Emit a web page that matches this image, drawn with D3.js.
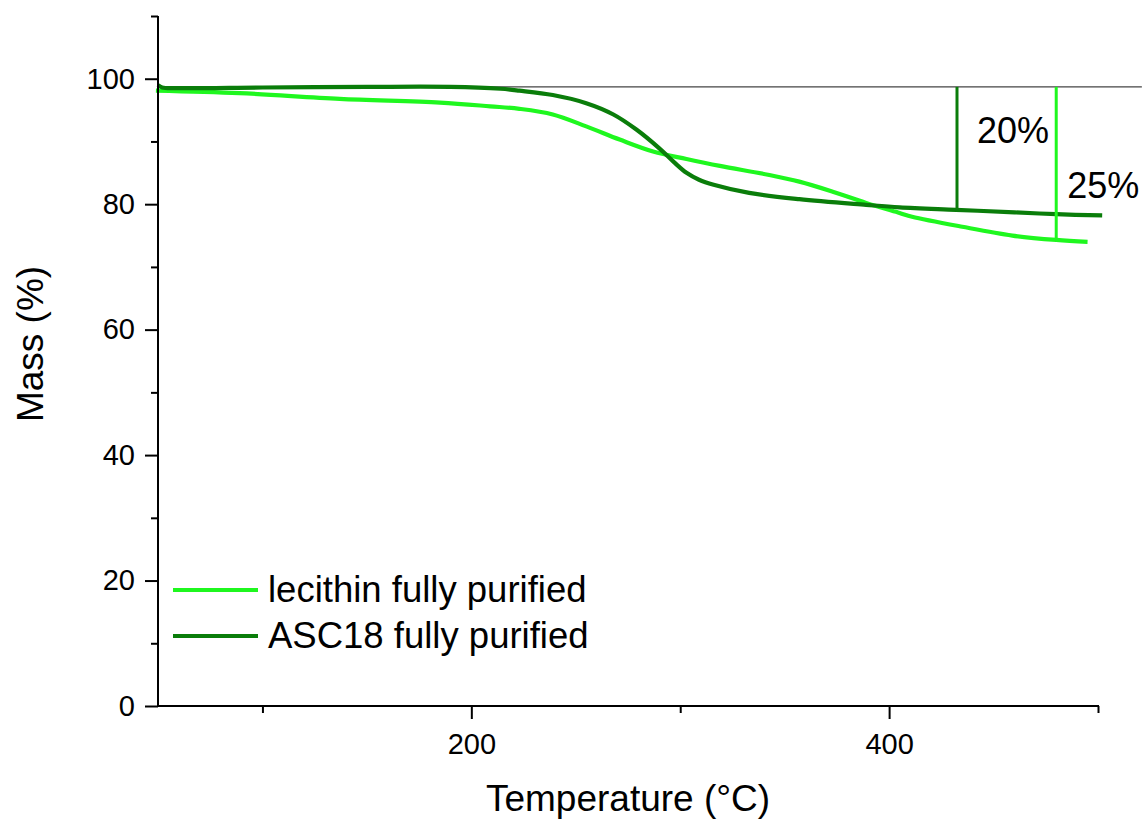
<!DOCTYPE html>
<html>
<head>
<meta charset="utf-8">
<script src="https://cdn.jsdelivr.net/npm/d3@7"></script>
<style>
  html, body { margin: 0; padding: 0; background: #fff; }
  svg { display: block; font-family: "Liberation Sans", Arial, sans-serif; }
</style>
</head>
<body>
<svg id="chart" width="1142" height="819"></svg>
<script>
// ---- data ----
const seriesNames = ["lecithin fully purified", "ASC18 fully purified"];
const seriesColors = ["#1ff71f", "#0a7d0a"];

const lecithinT = [49, 89, 137, 185, 209, 223, 239, 255, 271, 287, 303, 319, 342, 357, 373, 389, 405, 411, 435, 459, 480, 495];
const lecithinM = [98.1, 97.7, 96.8, 96.2, 95.6, 95.2, 94.3, 92.4, 90.3, 88.4, 87.2, 86.1, 84.7, 83.6, 82.0, 80.2, 78.6, 78.0, 76.4, 75.0, 74.3, 74.0];

const ascT = [50, 52, 60, 100, 150, 190, 214, 223, 239, 255, 268, 279, 290, 297, 303, 309, 316, 333, 357, 389, 405, 432, 460, 480, 502];
const ascM = [99.0, 98.6, 98.5, 98.6, 98.7, 98.7, 98.4, 98.1, 97.4, 96.1, 94.3, 91.9, 88.9, 86.7, 85.0, 83.9, 83.1, 81.8, 80.8, 79.9, 79.5, 79.1, 78.7, 78.4, 78.2];

const refLevel = 98.7;              // horizontal reference line (initial mass)
const refRange = [50, 521];
// mass-loss annotations: temperature, end mass, label, series index
const annT = [432.5, 480];
const annMass = [79.1, 74.3];
const annLabels = ["20%", "25%"];
const annSeries = [1, 0];

const xMajorTicks = [200, 400];
const xMinorTicks = [100, 300, 500];
const yMajorTicks = [0, 20, 40, 60, 80, 100];
const yMinorTicks = [10, 30, 50, 70, 90, 110];

// ---- layout ----
const W = 1142, H = 819;
const margin = { left: 158, right: 44, top: 16, bottom: 113 };
const svg = d3.select("#chart");
const x = d3.scaleLinear().domain([50, 500]).range([margin.left, W - margin.right]);
const y = d3.scaleLinear().domain([0, 110]).range([H - margin.bottom, margin.top]);

// reference line
svg.append("line")
  .attr("x1", x(refRange[0])).attr("x2", x(refRange[1]))
  .attr("y1", y(refLevel)).attr("y2", y(refLevel))
  .attr("stroke", "#444").attr("stroke-width", 1.2);

// data lines
const line = d3.line().x(d => x(d[0])).y(d => y(d[1])).curve(d3.curveCatmullRom.alpha(0.5));
const lecithin = lecithinT.map((t, i) => [t, lecithinM[i]]);
const asc = ascT.map((t, i) => [t, ascM[i]]);

svg.append("path").datum(lecithin).attr("d", line)
  .attr("fill", "none").attr("stroke", seriesColors[0]).attr("stroke-width", 4.2);
svg.append("path").datum(asc).attr("d", line)
  .attr("fill", "none").attr("stroke", seriesColors[1]).attr("stroke-width", 4.2);

// annotations
annT.forEach((t, i) => {
  svg.append("line")
    .attr("x1", x(t)).attr("x2", x(t))
    .attr("y1", y(refLevel)).attr("y2", y(annMass[i]))
    .attr("stroke", seriesColors[annSeries[i]]).attr("stroke-width", 3);
});
svg.append("text").attr("x", x(annT[0]) + 20).attr("y", 143)
  .attr("font-size", 36).attr("fill", "#000").text(annLabels[0]);
svg.append("text").attr("x", x(annT[1]) + 11).attr("y", 198)
  .attr("font-size", 36).attr("fill", "#000").text(annLabels[1]);

// axes
const axisColor = "#000";
function styleAxis(g) {
  g.select(".domain").attr("stroke", axisColor).attr("stroke-width", 2);
  g.selectAll(".tick line").attr("stroke", axisColor).attr("stroke-width", 2);
  g.selectAll(".tick text").attr("font-size", 29).attr("fill", "#000")
    .attr("font-family", "Liberation Sans, Arial, sans-serif");
}

const yAxisG = svg.append("g").attr("transform", `translate(${margin.left},0)`)
  .call(d3.axisLeft(y).tickValues(yMajorTicks).tickSize(13).tickPadding(10).tickSizeOuter(0));
styleAxis(yAxisG);
const yMinorG = svg.append("g").attr("transform", `translate(${margin.left},0)`)
  .call(d3.axisLeft(y).tickValues(yMinorTicks).tickSize(7).tickFormat("").tickSizeOuter(0));
styleAxis(yMinorG);
yMinorG.select(".domain").remove();

const xAxisG = svg.append("g").attr("transform", `translate(0,${H - margin.bottom})`)
  .call(d3.axisBottom(x).tickValues(xMajorTicks).tickSize(13).tickPadding(14).tickSizeOuter(0));
styleAxis(xAxisG);
const xMinorG = svg.append("g").attr("transform", `translate(0,${H - margin.bottom})`)
  .call(d3.axisBottom(x).tickValues(xMinorTicks).tickSize(7).tickFormat("").tickSizeOuter(0));
styleAxis(xMinorG);
xMinorG.select(".domain").remove();
yAxisG.select(".domain").attr("d", `M0,${y(110)}V${y(0) + 1}`);
xAxisG.select(".domain").attr("d", `M${margin.left - 1},0H${x(500) + 1}`);

// axis titles
svg.append("text").attr("x", (margin.left + W - margin.right) / 2).attr("y", 811)
  .attr("text-anchor", "middle").attr("font-size", 37).attr("fill", "#000")
  .text("Temperature (°C)");
svg.append("text").attr("transform", `translate(43,344) rotate(-90)`)
  .attr("text-anchor", "middle").attr("font-size", 37).attr("fill", "#000")
  .text("Mass (%)");

// legend
const legendY = [590, 636];
seriesNames.forEach((name, i) => {
  svg.append("line").attr("x1", 173).attr("x2", 258)
    .attr("y1", legendY[i]).attr("y2", legendY[i])
    .attr("stroke", seriesColors[i]).attr("stroke-width", 4);
  svg.append("text").attr("x", 268).attr("y", legendY[i] + 12)
    .attr("font-size", 36.5).attr("fill", "#000").text(name);
});
</script>
</body>
</html>
